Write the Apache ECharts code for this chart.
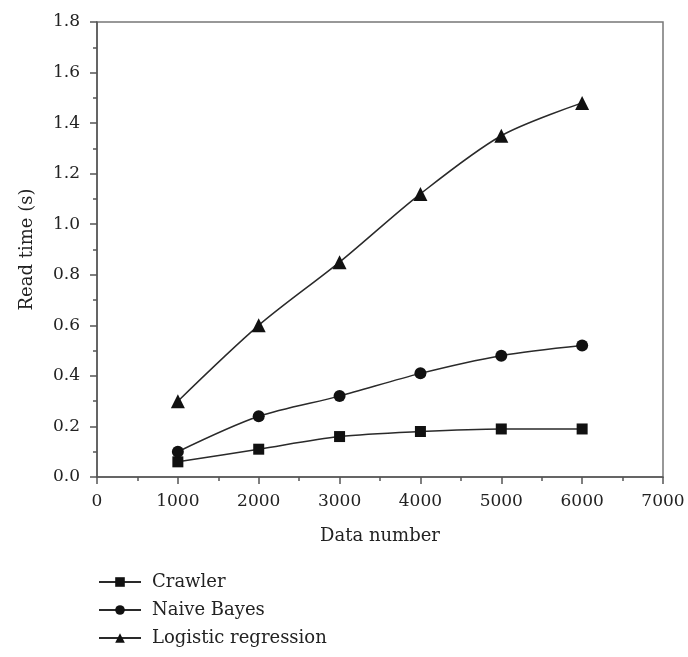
<!DOCTYPE html>
<html>
<head>
<meta charset="utf-8">
<script src="https://cdn.jsdelivr.net/npm/echarts@6/dist/echarts.min.js"></script>
<style>html,body{margin:0;padding:0;background:#fff;}#c{width:688px;height:657px;}</style>
</head>
<body>
<div id="c"></div>
<script>
var dataNumbers = [1000, 2000, 3000, 4000, 5000, 6000];
var crawler = [0.06, 0.11, 0.16, 0.18, 0.19, 0.19];
var naiveBayes = [0.10, 0.24, 0.32, 0.41, 0.48, 0.52];
var logistic = [0.30, 0.60, 0.85, 1.12, 1.35, 1.48];
var seriesNames = ['Crawler', 'Naive Bayes', 'Logistic regression'];

function pairs(ys) { return dataNumbers.map(function (x, i) { return [x, ys[i]]; }); }

var FONT = 'DejaVu Serif';
var chart = echarts.init(document.getElementById('c'), null, { renderer: 'canvas' });
var lineStyle = { color: '#2a2a2a', width: 1.5 };
function mkSeries(name, ys, symbol, size) {
  return {
    name: name, type: 'line', data: pairs(ys), smooth: 0.3,
    symbol: symbol, symbolSize: size,
    lineStyle: lineStyle,
    itemStyle: { color: '#111', borderWidth: 0 },
    emphasis: { disabled: true }
  };
}
chart.setOption({
  animation: false,
  grid: { left: 97, top: 22, right: 25, bottom: 180, show: true, borderColor: '#777', borderWidth: 1.5, backgroundColor: 'transparent' },
  legend: {
    orient: 'vertical', left: 93, top: 568, itemGap: 10, itemWidth: 42, itemHeight: 12,
    textStyle: { fontFamily: FONT, fontSize: 18, color: '#222', padding: [0, 0, 0, 6] },
    data: seriesNames
  },
  xAxis: {
    type: 'value', min: 0, max: 7000, interval: 1000,
    name: 'Data number', nameLocation: 'middle', nameGap: 50,
    nameTextStyle: { fontFamily: FONT, fontSize: 18, color: '#222' },
    axisLine: { show: true, lineStyle: { color: '#555', width: 1.5 } },
    axisTick: { show: true, inside: false, length: 7, lineStyle: { color: '#555', width: 1.5 } },
    minorTick: { show: true, splitNumber: 2, length: 4, lineStyle: { color: '#555', width: 1.5 } },
    axisLabel: { fontFamily: FONT, fontSize: 17, color: '#222', margin: 16, formatter: function (v) { return String(v); } },
    splitLine: { show: false }
  },
  yAxis: {
    type: 'value', min: 0, max: 1.8, interval: 0.2,
    name: 'Read time (s)', nameLocation: 'middle', nameGap: 61, nameRotate: 90,
    nameTextStyle: { fontFamily: FONT, fontSize: 18, color: '#222' },
    axisLine: { show: true, lineStyle: { color: '#555', width: 1.5 } },
    axisTick: { show: true, inside: false, length: 7, lineStyle: { color: '#555', width: 1.5 } },
    minorTick: { show: true, splitNumber: 2, length: 4, lineStyle: { color: '#555', width: 1.5 } },
    axisLabel: { fontFamily: FONT, fontSize: 17, color: '#222', margin: 17, formatter: function (v) { return v.toFixed(1); } },
    splitLine: { show: false }
  },
  series: [
    mkSeries(seriesNames[0], crawler, 'rect', 11),
    mkSeries(seriesNames[1], naiveBayes, 'circle', 12),
    mkSeries(seriesNames[2], logistic, 'triangle', 14)
  ]
});
</script>
</body>
</html>
